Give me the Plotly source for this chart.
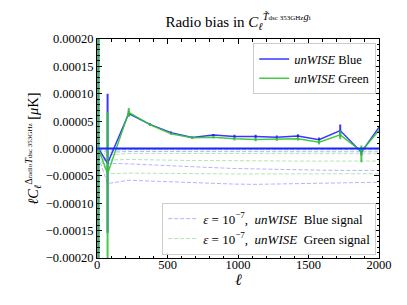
import plotly.graph_objects as go

# multipole bin centres
ell = [10, 75, 225, 375, 525, 675, 825, 975, 1125, 1275, 1425, 1575, 1725, 1875, 2025]

# measured radio bias (unWISE Blue / Green)
blue = [0.0, -0.000027, 0.0000638, 0.000044, 0.000029, 0.000020, 0.0000245, 0.000022,
        0.000022, 0.0000207, 0.000023, 0.000016, 0.0000328, -0.0000067, 0.000048]
blue_err = [0.0005, 0.000127, 0.000005, 0.000002, 0.000002, 0.000002, 0.000002, 0.000003,
            0.000003, 0.000003, 0.000003, 0.000004, 0.000011, 0.000006, 0.00001]
green = [0.0, -0.000046, 0.000066, 0.0000435, 0.000027, 0.0000195, 0.0000205, 0.0000177,
         0.0000164, 0.000017, 0.0000177, 0.0000115, 0.000025, -0.000005, 0.000041]
green_err_plus = [0.0005, 0.0001135, 0.000008, 0.000002, 0.000002, 0.000002, 0.000002, 0.000003,
                  0.000003, 0.000003, 0.000003, 0.000004, 0.000008, 0.0000105, 0.00001]
green_err_minus = [0.0005, 0.0003, 0.000008, 0.000002, 0.000002, 0.000002, 0.000002, 0.000003,
                   0.000003, 0.000003, 0.000003, 0.000004, 0.000008, 0.00002, 0.00001]

# epsilon = 1e-7 signal curves (units 1e-6)
blue_signals = [
    [-1, -3, -2, -2, -2, -2, -2, -2, -2, -2, -2, -2, -2, -2, -2],
    [-3, -7, -5.5, -5.5, -6, -6, -6, -6, -6, -6, -6, -6, -6, -6, -6],
    [-10, -27, -28, -30, -32, -34, -35, -36.5, -37.5, -38.5, -39, -39.5, -40, -40, -40],
    [-15, -64, -58, -59.5, -61, -62.5, -64, -65, -65.5, -65, -64, -63, -62.5, -62, -61.5],
]
green_signals = [
    [-4, -12, -9, -9, -9, -9, -9, -9.5, -9.5, -9.5, -9.5, -9.5, -9.5, -9.5, -9.5],
    [-8, -21, -20, -21, -21.5, -22, -22, -22.5, -22.5, -23, -23, -23, -23, -23, -23],
    [-12, -46, -45, -45, -45.5, -46, -46, -46.5, -46.5, -46.5, -46.5, -46.5, -46.5, -46, -46],
]

y_ticks = [-0.0002, -0.00015, -0.0001, -0.00005, 0.0, 0.00005, 0.0001, 0.00015, 0.0002]
x_ticks = [0, 500, 1000, 1500, 2000]

BLUE = "rgba(20,20,255,0.85)"
GREEN = "rgba(50,195,50,0.9)"
FONT = "Liberation Serif"
NB = "\u00a0"

fig = go.Figure()

sig_lbl = "<i>ε</i>" + NB + "=" + NB + "10<sup>−7</sup>," + NB + NB + "<i>unWISE</i>" + NB + NB + "{}" + NB + "signal"

for i, s in enumerate(blue_signals):
    fig.add_trace(go.Scatter(
        x=ell, y=[v * 1e-6 for v in s], mode="lines",
        line=dict(color="rgba(0,0,255,0.3)", width=1, dash="4px,2px"),
        name=sig_lbl.format("Blue"),
        legend="legend2", showlegend=(i == 0)))
for i, s in enumerate(green_signals):
    fig.add_trace(go.Scatter(
        x=ell, y=[v * 1e-6 for v in s], mode="lines",
        line=dict(color="rgba(0,170,0,0.3)", width=1, dash="4px,2px"),
        name=sig_lbl.format("Green"),
        legend="legend2", showlegend=(i == 0)))

fig.add_trace(go.Scatter(
    x=ell, y=blue, mode="lines", name="<i>unWISE</i>" + NB + "Blue",
    line=dict(color=BLUE, width=1.5),
    error_y=dict(type="data", array=blue_err, color=BLUE, thickness=2, width=0),
    legend="legend"))
fig.add_trace(go.Scatter(
    x=ell, y=green, mode="lines", name="<i>unWISE</i>" + NB + "Green",
    line=dict(color=GREEN, width=1.5),
    error_y=dict(type="data", symmetric=False, array=green_err_plus,
                 arrayminus=green_err_minus, color=GREEN, thickness=2, width=0),
    legend="legend"))

fig.add_hline(y=0, line=dict(color="rgb(20,40,255)", width=2.2))

axis_common = dict(
    showline=True, linecolor="black", linewidth=1, mirror="allticks",
    ticks="inside", ticklen=5, tickcolor="black", tickwidth=1,
    showgrid=False, zeroline=False, automargin=False,
    tickfont=dict(family=FONT, size=12.5, color="black"),
)

fig.update_xaxes(
    range=[0, 2000], tickvals=x_ticks, ticktext=[str(t) for t in x_ticks],
    minor=dict(ticks="inside", ticklen=2.5, tickcolor="black", dtick=100, showgrid=False),
    ticklabelstandoff=-5,
    **axis_common)
fig.update_yaxes(
    range=[-0.0002, 0.0002], tickvals=y_ticks,
    ticktext=[("−" if t < 0 else "") + f"{abs(t):.5f}" for t in y_ticks],
    minor=dict(ticks="inside", ticklen=2.5, tickcolor="black", dtick=0.00001, showgrid=False),
    title=dict(text="<i>ℓC<sub>ℓ</sub></i><sup>Δ<span style='font-size:7px'>radio</span><i>T</i><span style='font-size:7px'>dsc 353GHz</span></sup> [<i>μ</i>K]",
               font=dict(family=FONT, size=14.5, color="black"), standoff=3),
    **axis_common)

fig.add_annotation(text="<i>ℓ</i>", xref="paper", yref="paper", x=0.5, y=-0.097,
                   xanchor="center", yanchor="middle", showarrow=False,
                   font=dict(family=FONT, size=16, color="black"))

# page has an 8px body margin, so the figure is 8px smaller and margins shifted
fig.update_layout(
    width=399, height=297,
    margin=dict(l=89, r=28, t=31, b=47),
    paper_bgcolor="white", plot_bgcolor="white",
    font=dict(family=FONT, color="black"),
    title=dict(text="Radio bias in <i>C<sub>ℓ</sub></i><sup><i>T̃</i><span style='font-size:7px'>dsc 353GHz</span><i>g</i><span style='font-size:7px'>i</span></sup>",
               x=0.5, xref="paper", xanchor="center", y=0.955, yanchor="middle",
               font=dict(family=FONT, size=15, color="black")),
    legend=dict(x=0.99, y=0.98, xanchor="right", yanchor="top",
                bgcolor="rgba(255,255,255,0.85)", bordercolor="#cccccc", borderwidth=1,
                font=dict(family=FONT, size=12.5, color="black"),
                tracegroupgap=0, itemwidth=30),
    legend2=dict(x=0.99, y=0.015, xanchor="right", yanchor="bottom",
                 bgcolor="rgba(255,255,255,0.85)", bordercolor="#cccccc", borderwidth=1,
                 font=dict(family=FONT, size=13, color="black"),
                 tracegroupgap=0, itemwidth=30),
)

fig.write_html("out.html")
